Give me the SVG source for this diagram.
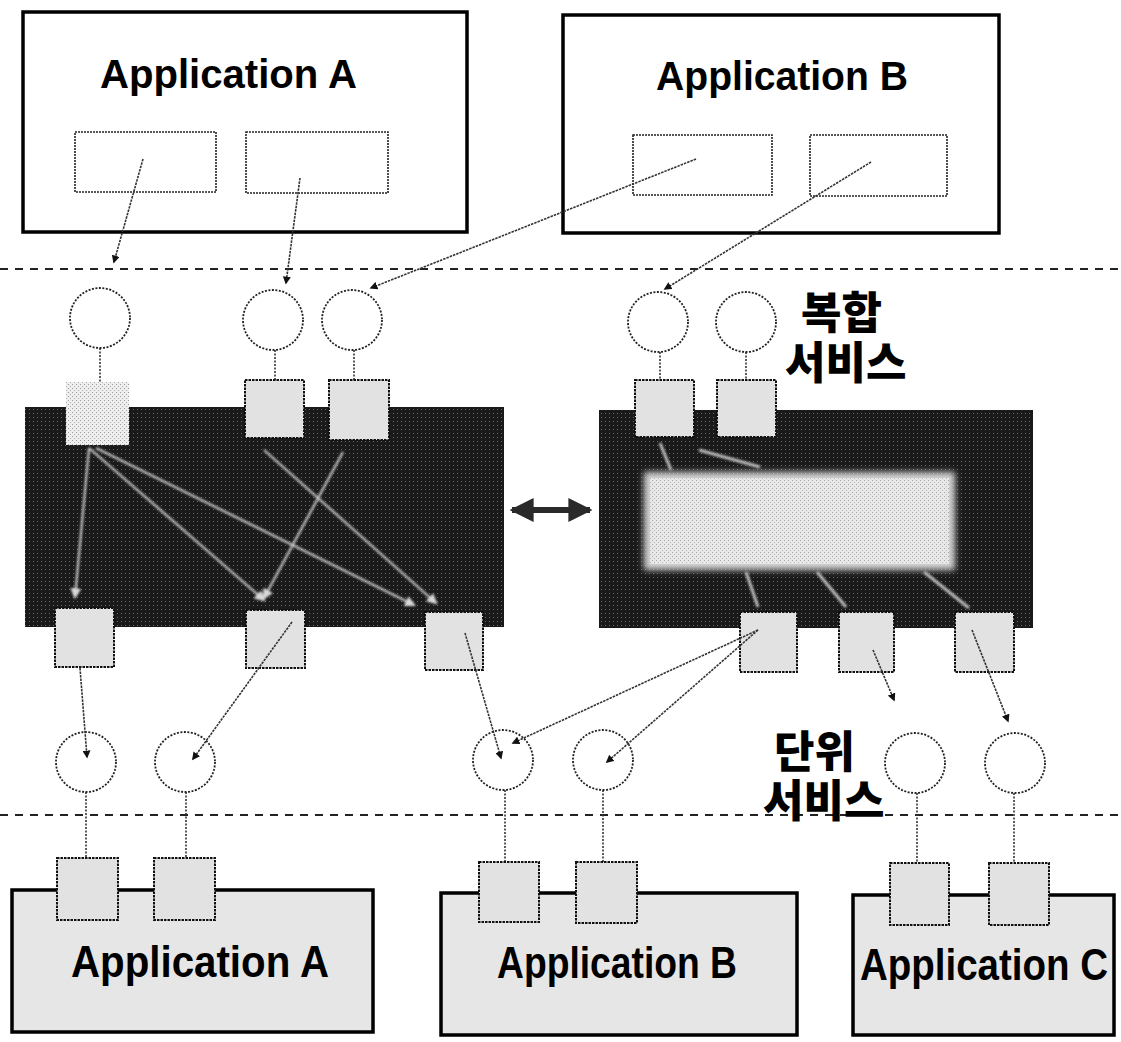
<svg xmlns="http://www.w3.org/2000/svg" width="1121" height="1042" viewBox="0 0 1121 1042">
<style>
.app{fill:#fff;stroke:#000;stroke-width:3.5}
.appL{fill:#e6e6e6;stroke:#000;stroke-width:3.5}
.inner{fill:#fff;stroke:#222;stroke-width:1.6;stroke-dasharray:2 1}
.sq{fill:#e2e2e2;stroke:#111;stroke-width:2;stroke-dasharray:2.5 1}
.circ{fill:#fff;stroke:#222;stroke-width:1.8;stroke-dasharray:2 1.5}
.stick{stroke:#333;stroke-width:1.6;stroke-dasharray:2 1.5;fill:none}
.sep{stroke:#222;stroke-width:1.8;stroke-dasharray:8 7;fill:none}
.con{stroke:#333;stroke-width:1.6;stroke-dasharray:2.5 1;fill:none;marker-end:url(#ah)}
.wl{stroke:#c8c8c8;stroke-width:2.2;fill:none;marker-end:url(#wh)}
.title{font-family:"Liberation Sans",Arial,sans-serif;font-weight:bold;fill:#000}
.ko{font-family:"Noto Sans CJK KR",sans-serif;font-weight:900;font-size:44px;fill:#000}
</style>
<defs>
<marker id="ah" viewBox="0 0 10 10" refX="8" refY="5" markerWidth="5" markerHeight="5" orient="auto" markerUnits="strokeWidth">
<path d="M0,0 L10,5 L0,10 z" fill="#111"/>
</marker>
<marker id="wh" viewBox="0 0 10 10" refX="8" refY="5" markerWidth="5" markerHeight="5" orient="auto" markerUnits="strokeWidth">
<path d="M0,0 L10,5 L0,10 z" fill="#d8d8d8"/>
</marker>
<marker id="dh" viewBox="0 0 10 10" refX="9" refY="5" markerWidth="4" markerHeight="4.8" orient="auto-start-reverse" markerUnits="strokeWidth">
<path d="M0,0 L10,5 L0,10 z" fill="#2a2a2a"/>
</marker>
<pattern id="dark" width="4" height="4" patternUnits="userSpaceOnUse">
<rect width="4" height="4" fill="#1a1a1a"/>
<rect x="1" y="1" width="1" height="1" fill="#6a6a6a"/>
</pattern>
<pattern id="light" width="4" height="4" patternUnits="userSpaceOnUse">
<rect width="4" height="4" fill="#eeeeee"/>
<rect x="0" y="0" width="1" height="1" fill="#9a9a9a"/>
<rect x="2" y="2" width="1" height="1" fill="#b0b0b0"/>
</pattern>
<filter id="soft" x="-10%" y="-20%" width="120%" height="140%">
<feGaussianBlur stdDeviation="3"/>
</filter>
<filter id="wblur" x="-5%" y="-5%" width="110%" height="110%">
<feGaussianBlur stdDeviation="0.8"/>
</filter>
</defs>
<rect width="1121" height="1042" fill="#fff"/>

<g id="separators">
<line class="sep" x1="0" y1="269" x2="1121" y2="269"/>
<line class="sep" x1="0" y1="815" x2="1121" y2="815"/>
</g>

<g id="app-a-top">
<rect class="app" x="23" y="12" width="444" height="220"/>
<text class="title" x="100" y="88" font-size="41" textLength="257" lengthAdjust="spacingAndGlyphs">Application A</text>
<rect class="inner" x="75" y="132" width="141" height="60"/>
<rect class="inner" x="246" y="132" width="142" height="61"/>
</g>

<g id="app-b-top">
<rect class="app" x="563" y="15" width="436" height="218"/>
<text class="title" x="656" y="90" font-size="41" textLength="252" lengthAdjust="spacingAndGlyphs">Application B</text>
<rect class="inner" x="633" y="135" width="139" height="60"/>
<rect class="inner" x="810" y="135" width="137" height="61"/>
</g>

<g id="composite-services">
<line class="stick" x1="100" y1="348" x2="100" y2="382"/>
<line class="stick" x1="275" y1="350" x2="275" y2="380"/>
<line class="stick" x1="354" y1="350" x2="354" y2="380"/>
<line class="stick" x1="660" y1="352" x2="660" y2="380"/>
<line class="stick" x1="746" y1="352" x2="746" y2="380"/>
<circle class="circ" cx="100" cy="318" r="30"/>
<circle class="circ" cx="273" cy="320" r="30"/>
<circle class="circ" cx="352" cy="320" r="30"/>
<circle class="circ" cx="658" cy="322" r="30"/>
<circle class="circ" cx="746" cy="322" r="30"/>
<text class="ko"><tspan x="801" y="329">복합</tspan><tspan x="785" y="379">서비스</tspan></text>
</g>

<g id="block-left">
<rect x="25" y="407" width="479" height="220" fill="url(#dark)"/>
<rect x="66" y="382" width="63" height="63" fill="url(#light)"/>
<rect class="sq" x="245" y="380" width="59" height="58"/>
<rect class="sq" x="329" y="380" width="60" height="60"/>
<g filter="url(#wblur)">
<line class="wl" x1="89" y1="448" x2="75" y2="597"/>
<line class="wl" x1="89" y1="448" x2="264" y2="600"/>
<line class="wl" x1="96" y1="448" x2="414" y2="605"/>
<line class="wl" x1="264" y1="450" x2="436" y2="603"/>
<line class="wl" x1="343" y1="452" x2="264" y2="598"/>
</g>
<rect class="sq" x="55" y="608" width="59" height="59"/>
<rect class="sq" x="246" y="610" width="59" height="58"/>
<rect class="sq" x="425" y="612" width="58" height="58"/>
</g>

<g id="block-right">
<rect x="599" y="410" width="434" height="218" fill="url(#dark)"/>
<rect x="644" y="472" width="311" height="98" fill="#d2d2d2" filter="url(#soft)"/>
<rect x="650" y="478" width="299" height="86" fill="url(#light)" opacity="0.8"/>
<g filter="url(#wblur)" stroke="#bdbdbd" stroke-width="3" fill="none">
<line x1="660" y1="443" x2="671" y2="470"/>
<line x1="699" y1="450" x2="760" y2="467"/>
<line x1="746" y1="572" x2="758" y2="607"/>
<line x1="817" y1="572" x2="846" y2="607"/>
<line x1="924" y1="572" x2="969" y2="608"/>
</g>
<rect class="sq" x="635" y="380" width="59" height="57"/>
<rect class="sq" x="717" y="380" width="59" height="57"/>
<rect class="sq" x="740" y="612" width="57" height="60"/>
<rect class="sq" x="839" y="612" width="55" height="60"/>
<rect class="sq" x="955" y="612" width="59" height="60"/>
</g>

<g id="unit-services">
<line class="stick" x1="86" y1="792" x2="86" y2="858"/>
<line class="stick" x1="186" y1="792" x2="186" y2="858"/>
<line class="stick" x1="505" y1="790" x2="505" y2="862"/>
<line class="stick" x1="603" y1="790" x2="603" y2="862"/>
<line class="stick" x1="917" y1="793" x2="917" y2="863"/>
<line class="stick" x1="1014" y1="793" x2="1014" y2="863"/>
<circle class="circ" cx="86" cy="762" r="30"/>
<circle class="circ" cx="185" cy="762" r="30"/>
<circle class="circ" cx="503" cy="760" r="30"/>
<circle class="circ" cx="603" cy="760" r="30"/>
<circle class="circ" cx="915" cy="763" r="30"/>
<circle class="circ" cx="1015" cy="763" r="30"/>
<text class="ko"><tspan x="774" y="768">단위</tspan><tspan x="763" y="817">서비스</tspan></text>
</g>

<g id="app-a-bottom">
<rect class="appL" x="12" y="890" width="361" height="142" fill="url(#light)"/>
<rect class="sq" x="57" y="858" width="61" height="62"/>
<rect class="sq" x="154" y="858" width="61" height="62"/>
<text class="title" x="71" y="977" font-size="44" textLength="258" lengthAdjust="spacingAndGlyphs">Application A</text>
</g>

<g id="app-b-bottom">
<rect class="appL" x="441" y="893" width="356" height="142" fill="url(#light)"/>
<rect class="sq" x="479" y="862" width="60" height="60"/>
<rect class="sq" x="576" y="862" width="61" height="61"/>
<text class="title" x="497" y="978" font-size="44" textLength="240" lengthAdjust="spacingAndGlyphs">Application B</text>
</g>

<g id="app-c-bottom">
<rect class="appL" x="853" y="895" width="261" height="140" fill="url(#light)"/>
<rect class="sq" x="890" y="863" width="59" height="62"/>
<rect class="sq" x="989" y="863" width="60" height="62"/>
<text class="title" x="860" y="980" font-size="44" textLength="248" lengthAdjust="spacingAndGlyphs">Application C</text>
</g>

<g id="connectors">
<line class="con" x1="143" y1="159" x2="114" y2="262"/>
<line class="con" x1="300" y1="178" x2="286" y2="283"/>
<line class="con" x1="696" y1="159" x2="371" y2="288"/>
<line class="con" x1="871" y1="162" x2="665" y2="289"/>
<line class="con" x1="80" y1="668" x2="87" y2="757"/>
<line class="con" x1="292" y1="622" x2="193" y2="759"/>
<line class="con" x1="465" y1="633" x2="501" y2="758"/>
<line class="con" x1="758" y1="630" x2="513" y2="743"/>
<line class="con" x1="758" y1="630" x2="607" y2="762"/>
<line class="con" x1="873" y1="650" x2="894" y2="700"/>
<line class="con" x1="972" y1="630" x2="1008" y2="721"/>
<line x1="512" y1="510" x2="590" y2="510" stroke="#2a2a2a" stroke-width="6" marker-start="url(#dh)" marker-end="url(#dh)"/>
</g>
</svg>
